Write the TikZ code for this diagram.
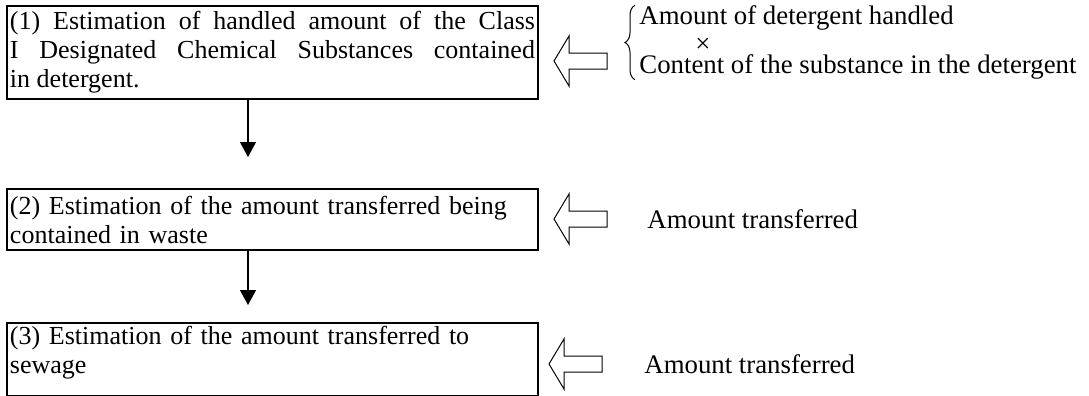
\documentclass[tikz,border=0pt]{standalone}
\usepackage{fontspec}
\setmainfont{Liberation Serif}
\usetikzlibrary{arrows.meta,decorations.pathreplacing}

\tikzset{
  stepbox/.style={draw, line width=1pt, anchor=north west, inner xsep=1.5pt, inner ysep=1pt,
    text width=262.5pt, font=\fontsize{13}{14.5}\selectfont},
  flow/.style={line width=0.7pt, -{Triangle[length=7.5pt,width=8pt]}},
  note/.style={anchor=west, inner sep=0pt, font=\fontsize{13.4}{15}\selectfont},
  fatarrow/.pic={\draw[line width=0.5pt, line join=miter] (0,0) -- (15,-25) -- (15,-8) -- (53,-8) -- (53,8) -- (15,8) -- (15,25) -- cycle;}
}

\begin{document}
\begin{tikzpicture}[x=0.5pt, y=-0.5pt]
\useasboundingbox (0,0) rectangle (1089,396);
\node[stepbox, align=justify, minimum height=46.5pt] (est1) at (6,5)
  {(1) Estimation of handled amount of the Class\linebreak I Designated Chemical Substances contained\linebreak in detergent.};
\node[stepbox, align=left, minimum height=30.5pt] (est2) at (6,188)
  {(2) Estimation of the amount transferred being\\ contained in waste};
\node[stepbox, align=left, minimum height=36.5pt] (est3) at (6,322)
  {(3) Estimation of the amount transferred to\\ sewage\rule[-10pt]{0pt}{10pt}};

\coordinate (d1) at (248,157);
\coordinate (d2) at (248,305);
\draw[flow] (d1 |- est1.south) -- (d1);
\draw[flow] (d2 |- est2.south) -- (d2);

\pic at (554,61) {fatarrow};
\pic at (554,219) {fatarrow};
\pic at (549,364) {fatarrow};

\node[note] (amt) at (639,18) {Amount of detergent handled};
\node[note, anchor=center] (times) at (703,45) {×};
\node[note] (cont) at (639,67) {Content of the substance in the detergent};
\draw[decorate, decoration={brace, amplitude=5pt}, line width=0.5pt]
  ([xshift=-2pt]cont.south west) -- ([xshift=-2pt]amt.north west);

\node[note] (amt2) at (647,219) {Amount transferred};
\node[note] (amt3) at (644,364) {Amount transferred};
\end{tikzpicture}
\end{document}
